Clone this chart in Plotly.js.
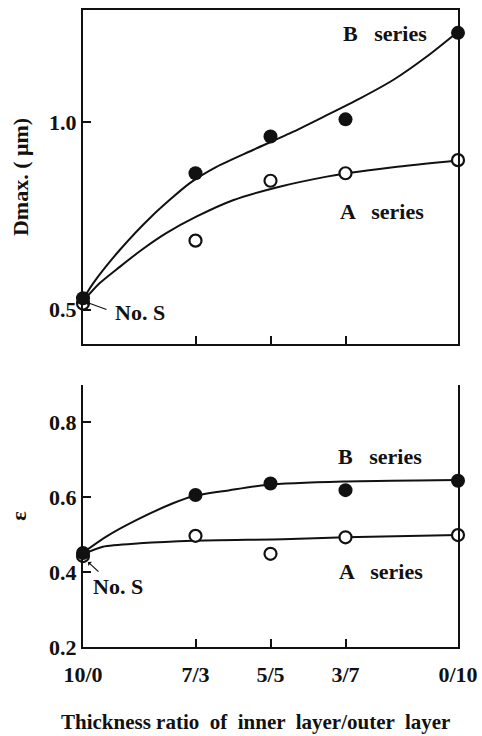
<!DOCTYPE html>
<html>
<head>
<meta charset="utf-8">
<script src="https://cdn.plot.ly/plotly-3.0.1.min.js"></script>
<style>
  html, body { margin: 0; padding: 0; background: #fff; }
  #chart { width: 482px; height: 736px; }
</style>
</head>
<body>
<div id="chart"></div>
<script>
// Thickness ratio (inner/outer) positions along the x axis, in tenths of outer layer
const ratioPos = [0, 3, 5, 7, 10];
const ratioLabels = ['10/0', '7/3', '5/5', '3/7', '0/10'];

// Measured maximum diameter Dmax (µm)
const dmaxB = [0.530, 0.864, 0.962, 1.008, 1.239];
const dmaxA = [0.516, 0.684, 0.844, 0.864, 0.899];

// Measured ε
const epsB = [0.451, 0.606, 0.637, 0.619, 0.644];
const epsA = [0.443, 0.497, 0.449, 0.493, 0.499];

// Hand-drawn trend curves through the data
const dmaxCurveBX = [0, 0.27, 0.98, 1.82, 2.84, 3.56, 4.53, 5.61, 6.5, 7.39, 8.27, 9.16, 10];
const dmaxCurveB  = [0.527, 0.570, 0.659, 0.748, 0.837, 0.881, 0.926, 0.975, 1.019, 1.064, 1.113, 1.175, 1.242];
const dmaxCurveAX = [0, 0.44, 0.98, 1.56, 2.22, 3.02, 4.0, 5.24, 6.5, 7.03, 8.27, 10];
const dmaxCurveA  = [0.522, 0.570, 0.614, 0.659, 0.704, 0.748, 0.792, 0.828, 0.855, 0.864, 0.880, 0.898];

const epsCurveBX = [0, 0.62, 1.42, 2.4, 2.93, 3.91, 4.89, 6.94, 10];
const epsCurveB  = [0.452, 0.495, 0.539, 0.584, 0.603, 0.619, 0.633, 0.642, 0.646];
const epsCurveAX = [0, 0.53, 1.51, 2.93, 5.33, 7.0, 10];
const epsCurveA  = [0.448, 0.468, 0.477, 0.484, 0.488, 0.493, 0.499];

const xTitle = 'Thickness ratio  of  inner  layer/outer  layer';

const FONT = 'Liberation Serif, Times New Roman, serif';
const INK = '#111';

function curve(x, y, xa, ya) {
  return { x: x, y: y, xaxis: xa, yaxis: ya, type: 'scatter', mode: 'lines',
    line: { color: INK, width: 2, shape: 'spline', smoothing: 0.7 }, hoverinfo: 'skip' };
}
function openPts(x, y, xa, ya) {
  return { x: x, y: y, xaxis: xa, yaxis: ya, type: 'scatter', mode: 'markers', cliponaxis: false,
    marker: { symbol: 'circle', size: 12, color: '#fff', line: { color: INK, width: 2.2 } } };
}
function filledPts(x, y, xa, ya) {
  return { x: x, y: y, xaxis: xa, yaxis: ya, type: 'scatter', mode: 'markers', cliponaxis: false,
    marker: { symbol: 'circle', size: 14, color: INK, line: { color: INK, width: 0 } } };
}

const traces = [
  // upper panel: Dmax
  curve(dmaxCurveBX, dmaxCurveB, 'x2', 'y2'),
  curve(dmaxCurveAX, dmaxCurveA, 'x2', 'y2'),
  openPts(ratioPos, dmaxA, 'x2', 'y2'),
  filledPts(ratioPos, dmaxB, 'x2', 'y2'),
  // lower panel: ε
  curve(epsCurveBX, epsCurveB, 'x', 'y'),
  curve(epsCurveAX, epsCurveA, 'x', 'y'),
  openPts(ratioPos, epsA, 'x', 'y'),
  filledPts(ratioPos, epsB, 'x', 'y')
];

const tickFont = { family: FONT, size: 22, color: INK, weight: 'bold' };
const textFont = { family: FONT, size: 22, color: INK, weight: 'bold' };

const axisCommon = {
  showline: true, linecolor: INK, linewidth: 2.2,
  ticks: 'inside', ticklen: 8, tickwidth: 2, tickcolor: INK,
  showgrid: false, zeroline: false, fixedrange: true,
  tickfont: tickFont
};

function label(text, x, y, xref, yref, xanchor) {
  return { text: text, x: x, y: y, xref: xref, yref: yref, xanchor: xanchor || 'center',
    yanchor: 'middle', showarrow: false, font: textFont };
}
function pointer(x, y, xref, yref, ax, ay) {
  return { text: '', x: x, y: y, xref: xref, yref: yref, showarrow: true,
    arrowhead: 1, arrowsize: 0.8, arrowwidth: 1.2, arrowcolor: INK, ax: ax, ay: ay, standoff: 0 };
}

const layout = {
  width: 482, height: 736,
  margin: { l: 83, r: 24, t: 10, b: 89 },
  paper_bgcolor: '#fff', plot_bgcolor: '#fff',
  showlegend: false,
  font: { family: FONT, color: INK },
  xaxis: Object.assign({}, axisCommon, {
    anchor: 'y', range: [0, 10], tickmode: 'array',
    tickvals: ratioPos, ticktext: ratioLabels, ticklabelstandoff: 6
  }),
  yaxis: Object.assign({}, axisCommon, {
    anchor: 'x', domain: [0, 0.4113], range: [0.2, 0.9], mirror: true,
    tickmode: 'array', tickvals: [0.2, 0.4, 0.6, 0.8], ticktext: ['0.2', '0.4', '0.6', '0.8'],
    title: { text: 'ε', font: { family: FONT, size: 22, color: INK, weight: 'bold' }, standoff: 16 }
  }),
  xaxis2: Object.assign({}, axisCommon, {
    anchor: 'y2', range: [0, 10], mirror: true, tickmode: 'array',
    tickvals: [3, 5, 7], showticklabels: false
  }),
  yaxis2: Object.assign({}, axisCommon, {
    anchor: 'x2', domain: [0.4757, 1], range: [0.408, 1.300], mirror: true,
    tickmode: 'array', tickvals: [0.5, 1.0], ticktext: ['0.5', '1.0'],
    title: { text: 'Dmax. ( μm)', font: { family: FONT, size: 22, color: INK, weight: 'bold' }, standoff: 14 }
  }),
  annotations: [
    label('B   series', 8.05, 1.236, 'x2', 'y2'),
    label('A   series', 7.97, 0.763, 'x2', 'y2'),
    label('No. S', 0.8, 0.493, 'x2', 'y2', 'left'),
    pointer(0.08, 0.52, 'x2', 'y2', 22, 8),
    label('B   series', 7.92, 0.710, 'x', 'y'),
    label('A   series', 7.95, 0.401, 'x', 'y'),
    label('No. S', 0.213, 0.361, 'x', 'y', 'left'),
    pointer(0.133, 0.427, 'x', 'y', 12, 11),
    // shared x-axis title beneath the lower panel
    { text: xTitle, xref: 'paper', yref: 'paper', x: 0.459, y: -0.118,
      xanchor: 'center', yanchor: 'middle', showarrow: false,
      font: { family: FONT, size: 21, color: INK, weight: 'bold' } }
  ]
};

Plotly.newPlot('chart', traces, layout, { displayModeBar: false, staticPlot: true });
</script>
</body>
</html>
